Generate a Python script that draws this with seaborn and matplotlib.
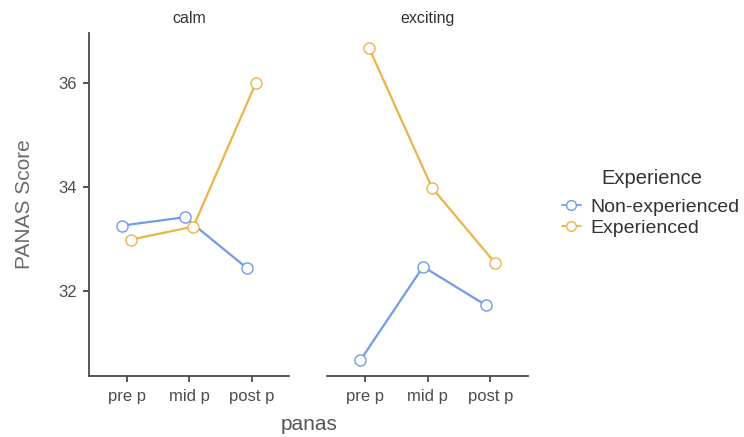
import numpy as np
import pandas as pd
import matplotlib
matplotlib.use("Agg")
import matplotlib.pyplot as plt
import seaborn as sns
from matplotlib.lines import Line2D

# Mean PANAS scores per mood condition, measurement point and experience group
moods = ["calm", "exciting"]
phases = ["pre p", "mid p", "post p"]
groups = ["Non-experienced", "Experienced"]

calm_non_exp = [33.26, 33.42, 32.44]
calm_exp = [32.99, 33.24, 36.00]
exciting_non_exp = [30.67, 32.47, 31.73]
exciting_exp = [36.67, 33.99, 32.55]

palette = {"Non-experienced": "#6F9BEA", "Experienced": "#EBB44A"}

rows = []
for mood, series in [("calm", (calm_non_exp, calm_exp)),
                     ("exciting", (exciting_non_exp, exciting_exp))]:
    for grp, vals in zip(groups, series):
        for ph, v in zip(phases, vals):
            rows.append({"mood": mood, "panas": ph, "Experience": grp, "score": v})
df = pd.DataFrame(rows)

sns.set_style("white")
plt.rcParams["font.family"] = ["Liberation Sans", "DejaVu Sans"]

fig = plt.figure(figsize=(7.44, 4.37), dpi=100)
W, H = 744, 437
ax_l = fig.add_axes([89 / W, 1 - 376 / H, 200 / W, 343 / H])
ax_r = fig.add_axes([327 / W, 1 - 376 / H, 201 / W, 343 / H], sharey=ax_l)

axis_col = "#4a4a4a"
tick_col = "#4d4d4d"
for ax, mood in [(ax_l, "calm"), (ax_r, "exciting")]:
    sub = df[df["mood"] == mood]
    sns.pointplot(data=sub, x="panas", y="score", hue="Experience",
                  order=phases, hue_order=groups, palette=palette,
                  dodge=0.14, errorbar=None, ax=ax,
                  markers="o", markersize=8, markerfacecolor="white",
                  markeredgewidth=1.0, linewidth=1.6)
    ax.set_xlim(-0.6, 2.6)
    ax.set_ylim(30.37, 36.96)
    ax.set_title(mood, fontsize=11.5, color="#333333", pad=7)
    ax.set_xlabel("")
    ax.set_ylabel("")
    if ax.get_legend() is not None:
        ax.get_legend().remove()
    for s in ["top", "right"]:
        ax.spines[s].set_visible(False)
    ax.spines["bottom"].set_color(axis_col)
    ax.spines["bottom"].set_linewidth(1.3)
    ax.tick_params(axis="x", length=4, width=1.3, color=axis_col,
                   labelsize=12, labelcolor=tick_col, pad=5, bottom=True)

ax_l.set_yticks([32, 34, 36])
ax_l.spines["left"].set_color(axis_col)
ax_l.spines["left"].set_linewidth(1.3)
ax_l.tick_params(axis="y", length=4, width=1.3, color=axis_col,
                 labelsize=12, labelcolor=tick_col, pad=5, left=True)
ax_l.set_ylabel("PANAS Score", fontsize=15, color="#6a6a6a", labelpad=17)

ax_r.spines["left"].set_visible(False)
ax_r.tick_params(axis="y", left=False, labelleft=False)

fig.text(309 / W, 1 - 425 / H, "panas", fontsize=15, color="#555555",
         ha="center", va="center")

# Legend: title placed separately for a wider gap above the entries
fig.text(652 / W, 1 - 178 / H, "Experience", fontsize=14.5, color="#333333",
         ha="center", va="center")
handles = [Line2D([0], [0], color=palette[g], lw=1.3, marker="o",
                  markersize=7, markerfacecolor="white", markeredgewidth=1.0)
           for g in groups]
leg = fig.legend(handles, groups,
                 loc="upper left", bbox_to_anchor=(548 / W, 1 - 185 / H),
                 frameon=False, fontsize=14,
                 handlelength=1.0, handletextpad=0.5, labelspacing=0.15,
                 borderpad=0.2)
for t in leg.get_texts():
    t.set_color("#333333")

fig.savefig("out.png", dpi=100)
